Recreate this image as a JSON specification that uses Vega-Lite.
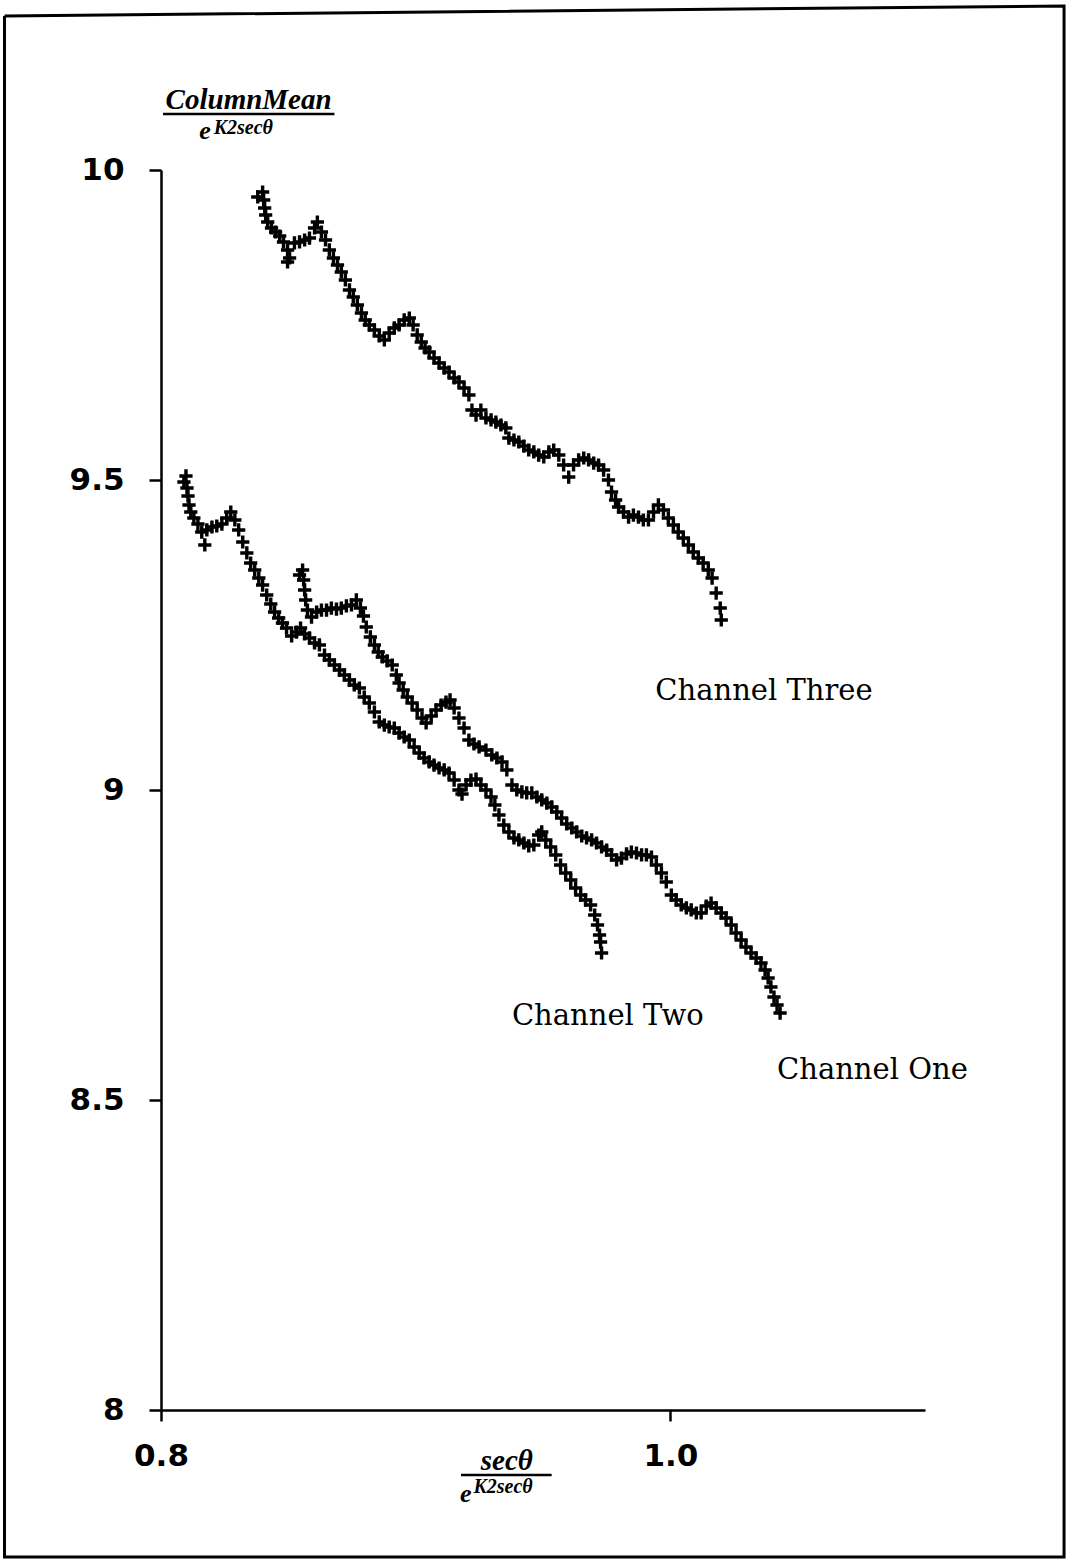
{
  "$schema": "https://vega.github.io/schema/vega-lite/v6.json",
  "width": 764,
  "height": 1240,
  "autosize": {"type": "none"},
  "padding": {"left": 161, "top": 170, "right": 147, "bottom": 150},
  "background": "white",
  "config": {"view": {"stroke": null}},
  "datasets": {
    "border": [
      {"o": 1, "x": 0.73855, "y": 10.2484},
      {"o": 2, "x": 1.1546, "y": 10.2645},
      {"o": 3, "x": 1.1546, "y": 7.7629},
      {"o": 4, "x": 0.73855, "y": 7.7629},
      {"o": 5, "x": 0.73855, "y": 10.2484}
    ],
    "pts": [
      {"ch":"Three","x":0.8380,"y":9.9565},{"ch":"Three","x":0.8399,"y":9.9645},{"ch":"Three","x":0.8403,"y":9.9516},{"ch":"Three","x":0.8407,"y":9.9387},{"ch":"Three","x":0.8411,"y":9.9274},{"ch":"Three","x":0.8419,"y":9.9161},{"ch":"Three","x":0.8434,"y":9.9065},{"ch":"Three","x":0.8450,"y":9.9},{"ch":"Three","x":0.8466,"y":9.8935},{"ch":"Three","x":0.8481,"y":9.8839},{"ch":"Three","x":0.8497,"y":9.871},{"ch":"Three","x":0.8505,"y":9.8581},{"ch":"Three","x":0.8497,"y":9.8516},{"ch":"Three","x":0.8524,"y":9.8823},{"ch":"Three","x":0.8544,"y":9.8839},{"ch":"Three","x":0.8564,"y":9.8871},{"ch":"Three","x":0.8583,"y":9.8903},{"ch":"Three","x":0.8603,"y":9.9065},{"ch":"Three","x":0.8614,"y":9.9161},{"ch":"Three","x":0.8630,"y":9.9},{"ch":"Three","x":0.8646,"y":9.8871},{"ch":"Three","x":0.8661,"y":9.871},{"ch":"Three","x":0.8677,"y":9.8581},{"ch":"Three","x":0.8693,"y":9.8468},{"ch":"Three","x":0.8708,"y":9.8355},{"ch":"Three","x":0.8724,"y":9.8226},{"ch":"Three","x":0.8740,"y":9.8065},{"ch":"Three","x":0.8755,"y":9.7952},{"ch":"Three","x":0.8771,"y":9.7823},{"ch":"Three","x":0.8787,"y":9.7694},{"ch":"Three","x":0.8802,"y":9.7581},{"ch":"Three","x":0.8818,"y":9.75},{"ch":"Three","x":0.8838,"y":9.7419},{"ch":"Three","x":0.8857,"y":9.7323},{"ch":"Three","x":0.8877,"y":9.7258},{"ch":"Three","x":0.8896,"y":9.7371},{"ch":"Three","x":0.8916,"y":9.7452},{"ch":"Three","x":0.8935,"y":9.75},{"ch":"Three","x":0.8955,"y":9.7581},{"ch":"Three","x":0.8975,"y":9.7613},{"ch":"Three","x":0.8990,"y":9.75},{"ch":"Three","x":0.9006,"y":9.7339},{"ch":"Three","x":0.9022,"y":9.7226},{"ch":"Three","x":0.9037,"y":9.7129},{"ch":"Three","x":0.9053,"y":9.7065},{"ch":"Three","x":0.9072,"y":9.6968},{"ch":"Three","x":0.9092,"y":9.6887},{"ch":"Three","x":0.9112,"y":9.6806},{"ch":"Three","x":0.9131,"y":9.6742},{"ch":"Three","x":0.9151,"y":9.6645},{"ch":"Three","x":0.9170,"y":9.6581},{"ch":"Three","x":0.9190,"y":9.6484},{"ch":"Three","x":0.9209,"y":9.6371},{"ch":"Three","x":0.9221,"y":9.6129},{"ch":"Three","x":0.9237,"y":9.6048},{"ch":"Three","x":0.9256,"y":9.6129},{"ch":"Three","x":0.9276,"y":9.6},{"ch":"Three","x":0.9296,"y":9.5968},{"ch":"Three","x":0.9315,"y":9.5935},{"ch":"Three","x":0.9335,"y":9.5887},{"ch":"Three","x":0.9354,"y":9.5839},{"ch":"Three","x":0.9366,"y":9.5677},{"ch":"Three","x":0.9386,"y":9.5645},{"ch":"Three","x":0.9405,"y":9.5613},{"ch":"Three","x":0.9425,"y":9.5548},{"ch":"Three","x":0.9444,"y":9.5484},{"ch":"Three","x":0.9464,"y":9.5452},{"ch":"Three","x":0.9483,"y":9.5403},{"ch":"Three","x":0.9503,"y":9.5371},{"ch":"Three","x":0.9523,"y":9.5452},{"ch":"Three","x":0.9542,"y":9.5484},{"ch":"Three","x":0.9562,"y":9.5403},{"ch":"Three","x":0.9581,"y":9.5242},{"ch":"Three","x":0.9601,"y":9.5048},{"ch":"Three","x":0.9620,"y":9.5242},{"ch":"Three","x":0.9640,"y":9.5323},{"ch":"Three","x":0.9660,"y":9.5355},{"ch":"Three","x":0.9679,"y":9.5323},{"ch":"Three","x":0.9699,"y":9.5274},{"ch":"Three","x":0.9718,"y":9.5242},{"ch":"Three","x":0.9738,"y":9.5161},{"ch":"Three","x":0.9757,"y":9.5},{"ch":"Three","x":0.9769,"y":9.4806},{"ch":"Three","x":0.9785,"y":9.4677},{"ch":"Three","x":0.9797,"y":9.4565},{"ch":"Three","x":0.9816,"y":9.4484},{"ch":"Three","x":0.9836,"y":9.4403},{"ch":"Three","x":0.9855,"y":9.4435},{"ch":"Three","x":0.9875,"y":9.4403},{"ch":"Three","x":0.9894,"y":9.4355},{"ch":"Three","x":0.9914,"y":9.4355},{"ch":"Three","x":0.9934,"y":9.4484},{"ch":"Three","x":0.9953,"y":9.4597},{"ch":"Three","x":0.9973,"y":9.4516},{"ch":"Three","x":0.9992,"y":9.4387},{"ch":"Three","x":1.0012,"y":9.4274},{"ch":"Three","x":1.0031,"y":9.4161},{"ch":"Three","x":1.0051,"y":9.4065},{"ch":"Three","x":1.0071,"y":9.3952},{"ch":"Three","x":1.0090,"y":9.3839},{"ch":"Three","x":1.0110,"y":9.3742},{"ch":"Three","x":1.0129,"y":9.3661},{"ch":"Three","x":1.0149,"y":9.3548},{"ch":"Three","x":1.0164,"y":9.3419},{"ch":"Three","x":1.0180,"y":9.3177},{"ch":"Three","x":1.0196,"y":9.2935},{"ch":"Three","x":1.0200,"y":9.2742},
      {"ch":"Two","x":0.8090,"y":9.4968},{"ch":"Two","x":0.8098,"y":9.5065},{"ch":"Two","x":0.8102,"y":9.4871},{"ch":"Two","x":0.8106,"y":9.4742},{"ch":"Two","x":0.8110,"y":9.4597},{"ch":"Two","x":0.8117,"y":9.4484},{"ch":"Two","x":0.8129,"y":9.4387},{"ch":"Two","x":0.8145,"y":9.4290},{"ch":"Two","x":0.8160,"y":9.4161},{"ch":"Two","x":0.8172,"y":9.3952},{"ch":"Two","x":0.8180,"y":9.4194},{"ch":"Two","x":0.8200,"y":9.4242},{"ch":"Two","x":0.8219,"y":9.4258},{"ch":"Two","x":0.8239,"y":9.4290},{"ch":"Two","x":0.8258,"y":9.4387},{"ch":"Two","x":0.8274,"y":9.4484},{"ch":"Two","x":0.8290,"y":9.4355},{"ch":"Two","x":0.8305,"y":9.4194},{"ch":"Two","x":0.8321,"y":9.4},{"ch":"Two","x":0.8337,"y":9.3823},{"ch":"Two","x":0.8352,"y":9.3661},{"ch":"Two","x":0.8368,"y":9.3548},{"ch":"Two","x":0.8384,"y":9.3419},{"ch":"Two","x":0.8399,"y":9.3306},{"ch":"Two","x":0.8415,"y":9.3145},{"ch":"Two","x":0.8431,"y":9.3},{"ch":"Two","x":0.8446,"y":9.2871},{"ch":"Two","x":0.8462,"y":9.2774},{"ch":"Two","x":0.8477,"y":9.2694},{"ch":"Two","x":0.8493,"y":9.2613},{"ch":"Two","x":0.8513,"y":9.2484},{"ch":"Two","x":0.8532,"y":9.2548},{"ch":"Two","x":0.8548,"y":9.2613},{"ch":"Two","x":0.8564,"y":9.2516},{"ch":"Two","x":0.8583,"y":9.2452},{"ch":"Two","x":0.8603,"y":9.2371},{"ch":"Two","x":0.8622,"y":9.2339},{"ch":"Two","x":0.8642,"y":9.2177},{"ch":"Two","x":0.8661,"y":9.2097},{"ch":"Two","x":0.8681,"y":9.2016},{"ch":"Two","x":0.8701,"y":9.1935},{"ch":"Two","x":0.8720,"y":9.1855},{"ch":"Two","x":0.8740,"y":9.1774},{"ch":"Two","x":0.8759,"y":9.1694},{"ch":"Two","x":0.8779,"y":9.1645},{"ch":"Two","x":0.8798,"y":9.15},{"ch":"Two","x":0.8818,"y":9.1403},{"ch":"Two","x":0.8838,"y":9.1258},{"ch":"Two","x":0.8857,"y":9.1097},{"ch":"Two","x":0.8877,"y":9.1048},{"ch":"Two","x":0.8896,"y":9.1016},{"ch":"Two","x":0.8916,"y":9.1},{"ch":"Two","x":0.8935,"y":9.0919},{"ch":"Two","x":0.8955,"y":9.0855},{"ch":"Two","x":0.8975,"y":9.0806},{"ch":"Two","x":0.8994,"y":9.0694},{"ch":"Two","x":0.9014,"y":9.0597},{"ch":"Two","x":0.9033,"y":9.0516},{"ch":"Two","x":0.9053,"y":9.0452},{"ch":"Two","x":0.9072,"y":9.0403},{"ch":"Two","x":0.9092,"y":9.0355},{"ch":"Two","x":0.9112,"y":9.0323},{"ch":"Two","x":0.9131,"y":9.0274},{"ch":"Two","x":0.9151,"y":9.0161},{"ch":"Two","x":0.9170,"y":9.0},{"ch":"Two","x":0.9182,"y":8.9935},{"ch":"Two","x":0.9198,"y":9.0081},{"ch":"Two","x":0.9217,"y":9.0161},{"ch":"Two","x":0.9237,"y":9.0177},{"ch":"Two","x":0.9256,"y":9.0081},{"ch":"Two","x":0.9276,"y":9.0},{"ch":"Two","x":0.9296,"y":8.9887},{"ch":"Two","x":0.9311,"y":8.9758},{"ch":"Two","x":0.9327,"y":8.9597},{"ch":"Two","x":0.9346,"y":8.9435},{"ch":"Two","x":0.9366,"y":8.9323},{"ch":"Two","x":0.9386,"y":8.9226},{"ch":"Two","x":0.9405,"y":8.9194},{"ch":"Two","x":0.9425,"y":8.9145},{"ch":"Two","x":0.9444,"y":8.9097},{"ch":"Two","x":0.9464,"y":8.9113},{"ch":"Two","x":0.9483,"y":8.9274},{"ch":"Two","x":0.9495,"y":8.9323},{"ch":"Two","x":0.9511,"y":8.9194},{"ch":"Two","x":0.9530,"y":8.9081},{"ch":"Two","x":0.9550,"y":8.8952},{"ch":"Two","x":0.9569,"y":8.8790},{"ch":"Two","x":0.9589,"y":8.8661},{"ch":"Two","x":0.9609,"y":8.8548},{"ch":"Two","x":0.9628,"y":8.8419},{"ch":"Two","x":0.9648,"y":8.8306},{"ch":"Two","x":0.9667,"y":8.8226},{"ch":"Two","x":0.9687,"y":8.8145},{"ch":"Two","x":0.9703,"y":8.7984},{"ch":"Two","x":0.9714,"y":8.7823},{"ch":"Two","x":0.9722,"y":8.7661},{"ch":"Two","x":0.9726,"y":8.7548},{"ch":"Two","x":0.9730,"y":8.7371},
      {"ch":"One","x":0.8544,"y":9.3468},{"ch":"One","x":0.8556,"y":9.3548},{"ch":"One","x":0.8560,"y":9.3387},{"ch":"One","x":0.8564,"y":9.3226},{"ch":"One","x":0.8568,"y":9.3065},{"ch":"One","x":0.8575,"y":9.2903},{"ch":"One","x":0.8591,"y":9.2790},{"ch":"One","x":0.8611,"y":9.2871},{"ch":"One","x":0.8630,"y":9.2903},{"ch":"One","x":0.8650,"y":9.2903},{"ch":"One","x":0.8669,"y":9.2935},{"ch":"One","x":0.8689,"y":9.2919},{"ch":"One","x":0.8708,"y":9.2935},{"ch":"One","x":0.8728,"y":9.2968},{"ch":"One","x":0.8748,"y":9.2984},{"ch":"One","x":0.8767,"y":9.3065},{"ch":"One","x":0.8783,"y":9.2935},{"ch":"One","x":0.8795,"y":9.2806},{"ch":"One","x":0.8806,"y":9.2629},{"ch":"One","x":0.8822,"y":9.2468},{"ch":"One","x":0.8838,"y":9.2339},{"ch":"One","x":0.8853,"y":9.2226},{"ch":"One","x":0.8869,"y":9.2145},{"ch":"One","x":0.8888,"y":9.2081},{"ch":"One","x":0.8908,"y":9.2016},{"ch":"One","x":0.8924,"y":9.1855},{"ch":"One","x":0.8935,"y":9.1726},{"ch":"One","x":0.8951,"y":9.1613},{"ch":"One","x":0.8967,"y":9.15},{"ch":"One","x":0.8986,"y":9.1403},{"ch":"One","x":0.9006,"y":9.1290},{"ch":"One","x":0.9025,"y":9.1161},{"ch":"One","x":0.9041,"y":9.1081},{"ch":"One","x":0.9061,"y":9.1194},{"ch":"One","x":0.9080,"y":9.1290},{"ch":"One","x":0.9100,"y":9.1371},{"ch":"One","x":0.9119,"y":9.1419},{"ch":"One","x":0.9135,"y":9.1452},{"ch":"One","x":0.9151,"y":9.1323},{"ch":"One","x":0.9170,"y":9.1161},{"ch":"One","x":0.9190,"y":9.1},{"ch":"One","x":0.9209,"y":9.0806},{"ch":"One","x":0.9229,"y":9.0742},{"ch":"One","x":0.9249,"y":9.0694},{"ch":"One","x":0.9276,"y":9.0645},{"ch":"One","x":0.9299,"y":9.0565},{"ch":"One","x":0.9319,"y":9.0516},{"ch":"One","x":0.9339,"y":9.0452},{"ch":"One","x":0.9358,"y":9.0323},{"ch":"One","x":0.9378,"y":9.0081},{"ch":"One","x":0.9397,"y":9.0},{"ch":"One","x":0.9417,"y":8.9968},{"ch":"One","x":0.9436,"y":8.9952},{"ch":"One","x":0.9456,"y":8.9952},{"ch":"One","x":0.9476,"y":8.9887},{"ch":"One","x":0.9495,"y":8.9839},{"ch":"One","x":0.9515,"y":8.9790},{"ch":"One","x":0.9534,"y":8.9726},{"ch":"One","x":0.9554,"y":8.9645},{"ch":"One","x":0.9573,"y":8.9548},{"ch":"One","x":0.9593,"y":8.9452},{"ch":"One","x":0.9613,"y":8.9387},{"ch":"One","x":0.9632,"y":8.9323},{"ch":"One","x":0.9652,"y":8.9258},{"ch":"One","x":0.9671,"y":8.9226},{"ch":"One","x":0.9691,"y":8.9194},{"ch":"One","x":0.9710,"y":8.9145},{"ch":"One","x":0.9730,"y":8.9081},{"ch":"One","x":0.9750,"y":8.9032},{"ch":"One","x":0.9769,"y":8.8952},{"ch":"One","x":0.9789,"y":8.8871},{"ch":"One","x":0.9808,"y":8.8903},{"ch":"One","x":0.9828,"y":8.8968},{"ch":"One","x":0.9847,"y":8.9},{"ch":"One","x":0.9867,"y":8.8984},{"ch":"One","x":0.9887,"y":8.8952},{"ch":"One","x":0.9906,"y":8.8952},{"ch":"One","x":0.9926,"y":8.8919},{"ch":"One","x":0.9945,"y":8.8790},{"ch":"One","x":0.9965,"y":8.8661},{"ch":"One","x":0.9984,"y":8.8516},{"ch":"One","x":1.0004,"y":8.8306},{"ch":"One","x":1.0023,"y":8.8226},{"ch":"One","x":1.0043,"y":8.8145},{"ch":"One","x":1.0063,"y":8.8097},{"ch":"One","x":1.0082,"y":8.8065},{"ch":"One","x":1.0102,"y":8.8016},{"ch":"One","x":1.0121,"y":8.8016},{"ch":"One","x":1.0141,"y":8.8129},{"ch":"One","x":1.0160,"y":8.8177},{"ch":"One","x":1.0180,"y":8.8097},{"ch":"One","x":1.0200,"y":8.8016},{"ch":"One","x":1.0219,"y":8.7935},{"ch":"One","x":1.0239,"y":8.7823},{"ch":"One","x":1.0258,"y":8.7694},{"ch":"One","x":1.0278,"y":8.7581},{"ch":"One","x":1.0297,"y":8.7468},{"ch":"One","x":1.0317,"y":8.7371},{"ch":"One","x":1.0337,"y":8.7290},{"ch":"One","x":1.0356,"y":8.7210},{"ch":"One","x":1.0372,"y":8.7097},{"ch":"One","x":1.0384,"y":8.6968},{"ch":"One","x":1.0395,"y":8.6823},{"ch":"One","x":1.0407,"y":8.6661},{"ch":"One","x":1.0419,"y":8.6532},{"ch":"One","x":1.0431,"y":8.6403}
    ],
    "chlabels": [
      {"t": "Channel Three", "x": 0.9941, "y": 9.1452},
      {"t": "Channel Two", "x": 0.9378, "y": 8.621},
      {"t": "Channel One", "x": 1.0419, "y": 8.5339}
    ],
    "numer": [
      {"t": "ColumnMean", "x": 0.8344, "y": 10.0984},
      {"t": "secθ", "x": 0.9358, "y": 7.9032}
    ],
    "ebase": [
      {"t": "e", "x": 0.8150, "y": 10.05},
      {"t": "e", "x": 0.9174, "y": 7.8516}
    ],
    "esup": [
      {"t": "K2secθ", "x": 0.8207, "y": 10.0581},
      {"t": "K2secθ", "x": 0.9227, "y": 7.8661}
    ],
    "bars": [
      {"x": 0.8008, "x2": 0.8681, "y": 10.0903},
      {"x": 0.9178, "x2": 0.9534, "y": 7.8952}
    ]
  },
  "layer": [
    {
      "data": {"name": "pts"},
      "mark": {"type": "point", "shape": "M-1,0L1,0M0,-1L0,1", "filled": false, "stroke": "black", "strokeWidth": 3.4, "size": 175, "opacity": 1},
      "encoding": {
        "x": {"field": "x", "type": "quantitative", "scale": {"domain": [0.8, 1.1], "zero": false, "nice": false},
          "axis": {"values": [0.8, 1.0], "format": ".1f", "title": null, "grid": false, "labelFont": "DejaVu Sans", "labelFontWeight": "bold", "labelFontSize": 31, "labelColor": "black", "labelFlush": false, "labelPadding": 20, "tickSize": 11, "tickWidth": 2.5, "tickColor": "black", "domainColor": "black", "domainWidth": 2.5}},
        "y": {"field": "y", "type": "quantitative", "scale": {"domain": [8, 10], "zero": false, "nice": false},
          "axis": {"values": [8, 8.5, 9, 9.5, 10], "format": "~g", "title": null, "grid": false, "labelFont": "DejaVu Sans", "labelFontWeight": "bold", "labelFontSize": 31, "labelColor": "black", "labelFlush": false, "labelPadding": 25, "tickSize": 12, "tickWidth": 2.5, "tickColor": "black", "domainColor": "black", "domainWidth": 2.5}},
        "detail": {"field": "ch", "type": "nominal"}
      }
    },
    {
      "data": {"name": "border"},
      "mark": {"type": "line", "stroke": "black", "strokeWidth": 3, "clip": false},
      "encoding": {
        "x": {"field": "x", "type": "quantitative"},
        "y": {"field": "y", "type": "quantitative"},
        "order": {"field": "o", "type": "quantitative"}
      }
    },
    {
      "data": {"name": "chlabels"},
      "mark": {"type": "text", "align": "left", "baseline": "alphabetic", "font": "DejaVu Serif", "fontSize": 29, "color": "black"},
      "encoding": {
        "x": {"field": "x", "type": "quantitative"},
        "y": {"field": "y", "type": "quantitative"},
        "text": {"field": "t"}
      }
    },
    {
      "data": {"name": "numer"},
      "mark": {"type": "text", "align": "center", "baseline": "alphabetic", "font": "Liberation Serif", "fontStyle": "italic", "fontWeight": "bold", "fontSize": 29, "color": "black"},
      "encoding": {
        "x": {"field": "x", "type": "quantitative"},
        "y": {"field": "y", "type": "quantitative"},
        "text": {"field": "t"}
      }
    },
    {
      "data": {"name": "ebase"},
      "mark": {"type": "text", "align": "left", "baseline": "alphabetic", "font": "Liberation Serif", "fontStyle": "italic", "fontWeight": "bold", "fontSize": 26, "color": "black"},
      "encoding": {
        "x": {"field": "x", "type": "quantitative"},
        "y": {"field": "y", "type": "quantitative"},
        "text": {"field": "t"}
      }
    },
    {
      "data": {"name": "esup"},
      "mark": {"type": "text", "align": "left", "baseline": "alphabetic", "font": "Liberation Serif", "fontStyle": "italic", "fontWeight": "bold", "fontSize": 20, "color": "black"},
      "encoding": {
        "x": {"field": "x", "type": "quantitative"},
        "y": {"field": "y", "type": "quantitative"},
        "text": {"field": "t"}
      }
    },
    {
      "data": {"name": "bars"},
      "mark": {"type": "rule", "stroke": "black", "strokeWidth": 2.5},
      "encoding": {
        "x": {"field": "x", "type": "quantitative"},
        "x2": {"field": "x2"},
        "y": {"field": "y", "type": "quantitative"}
      }
    }
  ]
}
